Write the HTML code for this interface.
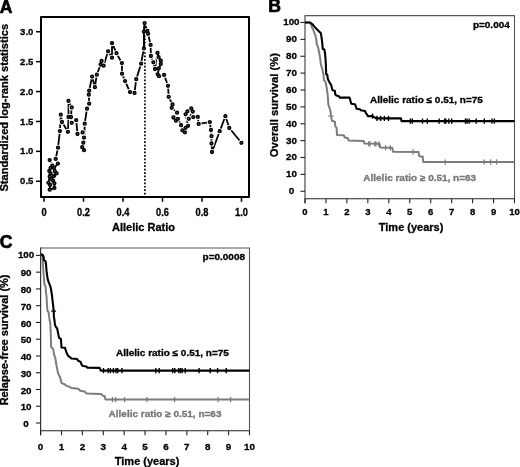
<!DOCTYPE html>
<html><head><meta charset="utf-8"><style>
html,body{margin:0;padding:0;background:#fff;width:520px;height:467px;overflow:hidden;}
text{stroke:#000;stroke-width:0.3px;}
text.gr{fill:#777;stroke:#777;}
text.pl{stroke-width:0.7px;}
</style></head><body>
<svg width="520" height="467" viewBox="0 0 520 467" style="display:block;will-change:transform">
<rect width="520" height="467" fill="#fff"/>
<g font-family='"Liberation Sans", sans-serif' font-weight="bold" stroke-linejoin="round">
<rect x="41" y="17" width="208" height="180" fill="none" stroke="#000" stroke-width="2"/>
<line x1="44" y1="198" x2="44" y2="201.8" stroke="#000" stroke-width="1.5"/>
<text transform="translate(44,215.8) scale(0.9,1)" font-size="10.3" text-anchor="middle">0</text>
<line x1="83.5" y1="198" x2="83.5" y2="201.8" stroke="#000" stroke-width="1.5"/>
<text transform="translate(83.5,215.8) scale(0.9,1)" font-size="10.3" text-anchor="middle">0.2</text>
<line x1="123" y1="198" x2="123" y2="201.8" stroke="#000" stroke-width="1.5"/>
<text transform="translate(123,215.8) scale(0.9,1)" font-size="10.3" text-anchor="middle">0.4</text>
<line x1="162.5" y1="198" x2="162.5" y2="201.8" stroke="#000" stroke-width="1.5"/>
<text transform="translate(162.5,215.8) scale(0.9,1)" font-size="10.3" text-anchor="middle">0.6</text>
<line x1="202" y1="198" x2="202" y2="201.8" stroke="#000" stroke-width="1.5"/>
<text transform="translate(202,215.8) scale(0.9,1)" font-size="10.3" text-anchor="middle">0.8</text>
<line x1="241.5" y1="198" x2="241.5" y2="201.8" stroke="#000" stroke-width="1.5"/>
<text transform="translate(241.5,215.8) scale(0.9,1)" font-size="10.3" text-anchor="middle">1.0</text>
<line x1="36" y1="181.25" x2="40" y2="181.25" stroke="#000" stroke-width="1.5"/>
<text transform="translate(26.7,184.35) scale(0.96,1)" font-size="9.9" text-anchor="middle">0.5</text>
<line x1="36" y1="151.35" x2="40" y2="151.35" stroke="#000" stroke-width="1.5"/>
<text transform="translate(26.7,154.45) scale(0.96,1)" font-size="9.9" text-anchor="middle">1.0</text>
<line x1="36" y1="121.45" x2="40" y2="121.45" stroke="#000" stroke-width="1.5"/>
<text transform="translate(26.7,124.55) scale(0.96,1)" font-size="9.9" text-anchor="middle">1.5</text>
<line x1="36" y1="91.55" x2="40" y2="91.55" stroke="#000" stroke-width="1.5"/>
<text transform="translate(26.7,94.65) scale(0.96,1)" font-size="9.9" text-anchor="middle">2.0</text>
<line x1="36" y1="61.65" x2="40" y2="61.65" stroke="#000" stroke-width="1.5"/>
<text transform="translate(26.7,64.75) scale(0.96,1)" font-size="9.9" text-anchor="middle">2.5</text>
<line x1="36" y1="31.75" x2="40" y2="31.75" stroke="#000" stroke-width="1.5"/>
<text transform="translate(26.7,34.85) scale(0.96,1)" font-size="9.9" text-anchor="middle">3.0</text>
<text x="143.5" y="231.3" font-size="11" text-anchor="middle">Allelic Ratio</text>
<text transform="translate(7.8,107.7) rotate(-90)" font-size="11.1" text-anchor="middle">Standardized log-rank statistics</text>
<text x="-0.3" y="12.5" font-size="17.6" class="pl">A</text>
<line x1="144.9" y1="24.7" x2="144.9" y2="196" stroke="#000" stroke-width="1.7" stroke-dasharray="1.7 1.73"/>
<path d="M49.7,160.1 L52.3,165.7 L50.6,167.9 L49.3,170.9 L50.6,173.4 L49.7,176.4 L48.4,182.8 L50.1,185 L49.7,189.7 L54.4,188 L54.4,183.3 L53.1,180.7 L51.4,179 L54,176 L56.6,173.4 L54.9,171.3 L54,167.9 L57.9,163.6 L55.7,158.9 L58,147.7 L59.9,131.1 L60.8,114.7 L62,122 L67.9,131.8 L68.5,117 L68.5,100.9 L71.7,107.4 L71,117 L71.7,122.8 L76.2,120.2 L77.5,134 L82.6,132.4 L84,137.6 L83.3,142.7 L82.2,147.2 L84,150.2 L84.7,123.7 L87,108.7 L89.2,103.7 L88.8,94.7 L89.2,90.7 L92.1,76.6 L94.9,87.2 L96.8,74.7 L100.6,64.5 L101.6,61 L103.6,65.7 L108.1,51.3 L112,57.7 L112,43.2 L116.5,53.2 L121.9,63.1 L122,73.7 L125.1,81.1 L130,92.1 L134.5,93 L136.2,79.2 L141.1,63.7 L143.9,48.4 L143.9,31.7 L144.6,23.1 L147.4,31 L148.1,33.8 L150.6,44.9 L150.9,56 L153.4,62.3 L155,69 L157.5,52.9 L158.6,57.2 L160.8,60.7 L160.8,64 L158.8,68.3 L157.7,74.3 L159,76.2 L164.1,74.9 L168,85.8 L168.7,96.8 L172.5,104.5 L171.7,107.8 L177.1,112.7 L173.4,117.5 L175.9,120.7 L177.9,118.8 L181.1,125.2 L182.4,130.3 L184.9,132.3 L185.6,127.8 L188.1,125.8 L185.6,114.3 L187.4,111.3 L191.3,108.4 L192.8,111.6 L188.8,118.8 L193.3,117.1 L197.8,116.9 L198.7,123.9 L209.8,122.1 L211,130 L211.5,136.2 L211.5,143.5 L212,152 L219.7,131.2 L225.4,116.2 L229.3,128 L241.4,142.8" fill="none" stroke="#000" stroke-width="1.8"/>
<circle cx="49.7" cy="160.1" r="3.0" fill="#fff"/>
<circle cx="52.3" cy="165.7" r="3.0" fill="#fff"/>
<circle cx="50.6" cy="167.9" r="3.0" fill="#fff"/>
<circle cx="49.3" cy="170.9" r="3.0" fill="#fff"/>
<circle cx="50.6" cy="173.4" r="3.0" fill="#fff"/>
<circle cx="49.7" cy="176.4" r="3.0" fill="#fff"/>
<circle cx="48.4" cy="182.8" r="3.0" fill="#fff"/>
<circle cx="50.1" cy="185" r="3.0" fill="#fff"/>
<circle cx="49.7" cy="189.7" r="3.0" fill="#fff"/>
<circle cx="54.4" cy="188" r="3.0" fill="#fff"/>
<circle cx="54.4" cy="183.3" r="3.0" fill="#fff"/>
<circle cx="53.1" cy="180.7" r="3.0" fill="#fff"/>
<circle cx="51.4" cy="179" r="3.0" fill="#fff"/>
<circle cx="54" cy="176" r="3.0" fill="#fff"/>
<circle cx="56.6" cy="173.4" r="3.0" fill="#fff"/>
<circle cx="54.9" cy="171.3" r="3.0" fill="#fff"/>
<circle cx="54" cy="167.9" r="3.0" fill="#fff"/>
<circle cx="57.9" cy="163.6" r="3.0" fill="#fff"/>
<circle cx="55.7" cy="158.9" r="3.0" fill="#fff"/>
<circle cx="58" cy="147.7" r="3.0" fill="#fff"/>
<circle cx="59.9" cy="131.1" r="3.0" fill="#fff"/>
<circle cx="60.8" cy="114.7" r="3.0" fill="#fff"/>
<circle cx="62" cy="122" r="3.0" fill="#fff"/>
<circle cx="67.9" cy="131.8" r="3.0" fill="#fff"/>
<circle cx="68.5" cy="117" r="3.0" fill="#fff"/>
<circle cx="68.5" cy="100.9" r="3.0" fill="#fff"/>
<circle cx="71.7" cy="107.4" r="3.0" fill="#fff"/>
<circle cx="71" cy="117" r="3.0" fill="#fff"/>
<circle cx="71.7" cy="122.8" r="3.0" fill="#fff"/>
<circle cx="76.2" cy="120.2" r="3.0" fill="#fff"/>
<circle cx="77.5" cy="134" r="3.0" fill="#fff"/>
<circle cx="82.6" cy="132.4" r="3.0" fill="#fff"/>
<circle cx="84" cy="137.6" r="3.0" fill="#fff"/>
<circle cx="83.3" cy="142.7" r="3.0" fill="#fff"/>
<circle cx="82.2" cy="147.2" r="3.0" fill="#fff"/>
<circle cx="84" cy="150.2" r="3.0" fill="#fff"/>
<circle cx="84.7" cy="123.7" r="3.0" fill="#fff"/>
<circle cx="87" cy="108.7" r="3.0" fill="#fff"/>
<circle cx="89.2" cy="103.7" r="3.0" fill="#fff"/>
<circle cx="88.8" cy="94.7" r="3.0" fill="#fff"/>
<circle cx="89.2" cy="90.7" r="3.0" fill="#fff"/>
<circle cx="92.1" cy="76.6" r="3.0" fill="#fff"/>
<circle cx="94.9" cy="87.2" r="3.0" fill="#fff"/>
<circle cx="96.8" cy="74.7" r="3.0" fill="#fff"/>
<circle cx="100.6" cy="64.5" r="3.0" fill="#fff"/>
<circle cx="101.6" cy="61" r="3.0" fill="#fff"/>
<circle cx="103.6" cy="65.7" r="3.0" fill="#fff"/>
<circle cx="108.1" cy="51.3" r="3.0" fill="#fff"/>
<circle cx="112" cy="57.7" r="3.0" fill="#fff"/>
<circle cx="112" cy="43.2" r="3.0" fill="#fff"/>
<circle cx="116.5" cy="53.2" r="3.0" fill="#fff"/>
<circle cx="121.9" cy="63.1" r="3.0" fill="#fff"/>
<circle cx="122" cy="73.7" r="3.0" fill="#fff"/>
<circle cx="125.1" cy="81.1" r="3.0" fill="#fff"/>
<circle cx="130" cy="92.1" r="3.0" fill="#fff"/>
<circle cx="134.5" cy="93" r="3.0" fill="#fff"/>
<circle cx="136.2" cy="79.2" r="3.0" fill="#fff"/>
<circle cx="141.1" cy="63.7" r="3.0" fill="#fff"/>
<circle cx="143.9" cy="48.4" r="3.0" fill="#fff"/>
<circle cx="143.9" cy="31.7" r="3.0" fill="#fff"/>
<circle cx="144.6" cy="23.1" r="3.0" fill="#fff"/>
<circle cx="147.4" cy="31" r="3.0" fill="#fff"/>
<circle cx="148.1" cy="33.8" r="3.0" fill="#fff"/>
<circle cx="150.6" cy="44.9" r="3.0" fill="#fff"/>
<circle cx="150.9" cy="56" r="3.0" fill="#fff"/>
<circle cx="153.4" cy="62.3" r="3.0" fill="#fff"/>
<circle cx="155" cy="69" r="3.0" fill="#fff"/>
<circle cx="157.5" cy="52.9" r="3.0" fill="#fff"/>
<circle cx="158.6" cy="57.2" r="3.0" fill="#fff"/>
<circle cx="160.8" cy="60.7" r="3.0" fill="#fff"/>
<circle cx="160.8" cy="64" r="3.0" fill="#fff"/>
<circle cx="158.8" cy="68.3" r="3.0" fill="#fff"/>
<circle cx="157.7" cy="74.3" r="3.0" fill="#fff"/>
<circle cx="159" cy="76.2" r="3.0" fill="#fff"/>
<circle cx="164.1" cy="74.9" r="3.0" fill="#fff"/>
<circle cx="168" cy="85.8" r="3.0" fill="#fff"/>
<circle cx="168.7" cy="96.8" r="3.0" fill="#fff"/>
<circle cx="172.5" cy="104.5" r="3.0" fill="#fff"/>
<circle cx="171.7" cy="107.8" r="3.0" fill="#fff"/>
<circle cx="177.1" cy="112.7" r="3.0" fill="#fff"/>
<circle cx="173.4" cy="117.5" r="3.0" fill="#fff"/>
<circle cx="175.9" cy="120.7" r="3.0" fill="#fff"/>
<circle cx="177.9" cy="118.8" r="3.0" fill="#fff"/>
<circle cx="181.1" cy="125.2" r="3.0" fill="#fff"/>
<circle cx="182.4" cy="130.3" r="3.0" fill="#fff"/>
<circle cx="184.9" cy="132.3" r="3.0" fill="#fff"/>
<circle cx="185.6" cy="127.8" r="3.0" fill="#fff"/>
<circle cx="188.1" cy="125.8" r="3.0" fill="#fff"/>
<circle cx="185.6" cy="114.3" r="3.0" fill="#fff"/>
<circle cx="187.4" cy="111.3" r="3.0" fill="#fff"/>
<circle cx="191.3" cy="108.4" r="3.0" fill="#fff"/>
<circle cx="192.8" cy="111.6" r="3.0" fill="#fff"/>
<circle cx="188.8" cy="118.8" r="3.0" fill="#fff"/>
<circle cx="193.3" cy="117.1" r="3.0" fill="#fff"/>
<circle cx="197.8" cy="116.9" r="3.0" fill="#fff"/>
<circle cx="198.7" cy="123.9" r="3.0" fill="#fff"/>
<circle cx="209.8" cy="122.1" r="3.0" fill="#fff"/>
<circle cx="211" cy="130" r="3.0" fill="#fff"/>
<circle cx="211.5" cy="136.2" r="3.0" fill="#fff"/>
<circle cx="211.5" cy="143.5" r="3.0" fill="#fff"/>
<circle cx="212" cy="152" r="3.0" fill="#fff"/>
<circle cx="219.7" cy="131.2" r="3.0" fill="#fff"/>
<circle cx="225.4" cy="116.2" r="3.0" fill="#fff"/>
<circle cx="229.3" cy="128" r="3.0" fill="#fff"/>
<circle cx="241.4" cy="142.8" r="3.0" fill="#fff"/>
<path d="M52.3,165.7 L50.6,167.9 L49.3,170.9 L50.6,173.4 L49.7,176.4 L48.4,182.8 L50.1,185 L49.7,189.7 L54.4,188 L54.4,183.3 L53.1,180.7 L51.4,179 L54,176 L56.6,173.4 L54.9,171.3 L54,167.9 L57.9,163.6" fill="none" stroke="#000" stroke-width="1.8"/>
<path d="M143.9,48.4 L143.9,31.7 L144.6,23.1" fill="none" stroke="#000" stroke-width="1.8"/>
<path d="M157.5,52.9 L158.6,57.2 L160.8,60.7 L160.8,64 L158.8,68.3 L157.7,74.3 L159,76.2" fill="none" stroke="#000" stroke-width="1.8"/>
<circle cx="49.7" cy="160.1" r="1.45" fill="#555" stroke="#000" stroke-width="1.4"/>
<circle cx="52.3" cy="165.7" r="1.45" fill="#555" stroke="#000" stroke-width="1.4"/>
<circle cx="50.6" cy="167.9" r="1.45" fill="#555" stroke="#000" stroke-width="1.4"/>
<circle cx="49.3" cy="170.9" r="1.45" fill="#555" stroke="#000" stroke-width="1.4"/>
<circle cx="50.6" cy="173.4" r="1.45" fill="#555" stroke="#000" stroke-width="1.4"/>
<circle cx="49.7" cy="176.4" r="1.45" fill="#555" stroke="#000" stroke-width="1.4"/>
<circle cx="48.4" cy="182.8" r="1.45" fill="#555" stroke="#000" stroke-width="1.4"/>
<circle cx="50.1" cy="185" r="1.45" fill="#555" stroke="#000" stroke-width="1.4"/>
<circle cx="49.7" cy="189.7" r="1.45" fill="#555" stroke="#000" stroke-width="1.4"/>
<circle cx="54.4" cy="188" r="1.45" fill="#555" stroke="#000" stroke-width="1.4"/>
<circle cx="54.4" cy="183.3" r="1.45" fill="#555" stroke="#000" stroke-width="1.4"/>
<circle cx="53.1" cy="180.7" r="1.45" fill="#555" stroke="#000" stroke-width="1.4"/>
<circle cx="51.4" cy="179" r="1.45" fill="#555" stroke="#000" stroke-width="1.4"/>
<circle cx="54" cy="176" r="1.45" fill="#555" stroke="#000" stroke-width="1.4"/>
<circle cx="56.6" cy="173.4" r="1.45" fill="#555" stroke="#000" stroke-width="1.4"/>
<circle cx="54.9" cy="171.3" r="1.45" fill="#555" stroke="#000" stroke-width="1.4"/>
<circle cx="54" cy="167.9" r="1.45" fill="#555" stroke="#000" stroke-width="1.4"/>
<circle cx="57.9" cy="163.6" r="1.45" fill="#555" stroke="#000" stroke-width="1.4"/>
<circle cx="55.7" cy="158.9" r="1.45" fill="#555" stroke="#000" stroke-width="1.4"/>
<circle cx="58" cy="147.7" r="1.45" fill="#555" stroke="#000" stroke-width="1.4"/>
<circle cx="59.9" cy="131.1" r="1.45" fill="#555" stroke="#000" stroke-width="1.4"/>
<circle cx="60.8" cy="114.7" r="1.45" fill="#555" stroke="#000" stroke-width="1.4"/>
<circle cx="62" cy="122" r="1.45" fill="#555" stroke="#000" stroke-width="1.4"/>
<circle cx="67.9" cy="131.8" r="1.45" fill="#555" stroke="#000" stroke-width="1.4"/>
<circle cx="68.5" cy="117" r="1.45" fill="#555" stroke="#000" stroke-width="1.4"/>
<circle cx="68.5" cy="100.9" r="1.45" fill="#555" stroke="#000" stroke-width="1.4"/>
<circle cx="71.7" cy="107.4" r="1.45" fill="#555" stroke="#000" stroke-width="1.4"/>
<circle cx="71" cy="117" r="1.45" fill="#555" stroke="#000" stroke-width="1.4"/>
<circle cx="71.7" cy="122.8" r="1.45" fill="#555" stroke="#000" stroke-width="1.4"/>
<circle cx="76.2" cy="120.2" r="1.45" fill="#555" stroke="#000" stroke-width="1.4"/>
<circle cx="77.5" cy="134" r="1.45" fill="#555" stroke="#000" stroke-width="1.4"/>
<circle cx="82.6" cy="132.4" r="1.45" fill="#555" stroke="#000" stroke-width="1.4"/>
<circle cx="84" cy="137.6" r="1.45" fill="#555" stroke="#000" stroke-width="1.4"/>
<circle cx="83.3" cy="142.7" r="1.45" fill="#555" stroke="#000" stroke-width="1.4"/>
<circle cx="82.2" cy="147.2" r="1.45" fill="#555" stroke="#000" stroke-width="1.4"/>
<circle cx="84" cy="150.2" r="1.45" fill="#555" stroke="#000" stroke-width="1.4"/>
<circle cx="84.7" cy="123.7" r="1.45" fill="#555" stroke="#000" stroke-width="1.4"/>
<circle cx="87" cy="108.7" r="1.45" fill="#555" stroke="#000" stroke-width="1.4"/>
<circle cx="89.2" cy="103.7" r="1.45" fill="#555" stroke="#000" stroke-width="1.4"/>
<circle cx="88.8" cy="94.7" r="1.45" fill="#555" stroke="#000" stroke-width="1.4"/>
<circle cx="89.2" cy="90.7" r="1.45" fill="#555" stroke="#000" stroke-width="1.4"/>
<circle cx="92.1" cy="76.6" r="1.45" fill="#555" stroke="#000" stroke-width="1.4"/>
<circle cx="94.9" cy="87.2" r="1.45" fill="#555" stroke="#000" stroke-width="1.4"/>
<circle cx="96.8" cy="74.7" r="1.45" fill="#555" stroke="#000" stroke-width="1.4"/>
<circle cx="100.6" cy="64.5" r="1.45" fill="#555" stroke="#000" stroke-width="1.4"/>
<circle cx="101.6" cy="61" r="1.45" fill="#555" stroke="#000" stroke-width="1.4"/>
<circle cx="103.6" cy="65.7" r="1.45" fill="#555" stroke="#000" stroke-width="1.4"/>
<circle cx="108.1" cy="51.3" r="1.45" fill="#555" stroke="#000" stroke-width="1.4"/>
<circle cx="112" cy="57.7" r="1.45" fill="#555" stroke="#000" stroke-width="1.4"/>
<circle cx="112" cy="43.2" r="1.45" fill="#555" stroke="#000" stroke-width="1.4"/>
<circle cx="116.5" cy="53.2" r="1.45" fill="#555" stroke="#000" stroke-width="1.4"/>
<circle cx="121.9" cy="63.1" r="1.45" fill="#555" stroke="#000" stroke-width="1.4"/>
<circle cx="122" cy="73.7" r="1.45" fill="#555" stroke="#000" stroke-width="1.4"/>
<circle cx="125.1" cy="81.1" r="1.45" fill="#555" stroke="#000" stroke-width="1.4"/>
<circle cx="130" cy="92.1" r="1.45" fill="#555" stroke="#000" stroke-width="1.4"/>
<circle cx="134.5" cy="93" r="1.45" fill="#555" stroke="#000" stroke-width="1.4"/>
<circle cx="136.2" cy="79.2" r="1.45" fill="#555" stroke="#000" stroke-width="1.4"/>
<circle cx="141.1" cy="63.7" r="1.45" fill="#555" stroke="#000" stroke-width="1.4"/>
<circle cx="143.9" cy="48.4" r="1.45" fill="#555" stroke="#000" stroke-width="1.4"/>
<circle cx="143.9" cy="31.7" r="1.45" fill="#555" stroke="#000" stroke-width="1.4"/>
<circle cx="144.6" cy="23.1" r="1.45" fill="#555" stroke="#000" stroke-width="1.4"/>
<circle cx="147.4" cy="31" r="1.45" fill="#555" stroke="#000" stroke-width="1.4"/>
<circle cx="148.1" cy="33.8" r="1.45" fill="#555" stroke="#000" stroke-width="1.4"/>
<circle cx="150.6" cy="44.9" r="1.45" fill="#555" stroke="#000" stroke-width="1.4"/>
<circle cx="150.9" cy="56" r="1.45" fill="#555" stroke="#000" stroke-width="1.4"/>
<circle cx="153.4" cy="62.3" r="1.45" fill="#555" stroke="#000" stroke-width="1.4"/>
<circle cx="155" cy="69" r="1.45" fill="#555" stroke="#000" stroke-width="1.4"/>
<circle cx="157.5" cy="52.9" r="1.45" fill="#555" stroke="#000" stroke-width="1.4"/>
<circle cx="158.6" cy="57.2" r="1.45" fill="#555" stroke="#000" stroke-width="1.4"/>
<circle cx="160.8" cy="60.7" r="1.45" fill="#555" stroke="#000" stroke-width="1.4"/>
<circle cx="160.8" cy="64" r="1.45" fill="#555" stroke="#000" stroke-width="1.4"/>
<circle cx="158.8" cy="68.3" r="1.45" fill="#555" stroke="#000" stroke-width="1.4"/>
<circle cx="157.7" cy="74.3" r="1.45" fill="#555" stroke="#000" stroke-width="1.4"/>
<circle cx="159" cy="76.2" r="1.45" fill="#555" stroke="#000" stroke-width="1.4"/>
<circle cx="164.1" cy="74.9" r="1.45" fill="#555" stroke="#000" stroke-width="1.4"/>
<circle cx="168" cy="85.8" r="1.45" fill="#555" stroke="#000" stroke-width="1.4"/>
<circle cx="168.7" cy="96.8" r="1.45" fill="#555" stroke="#000" stroke-width="1.4"/>
<circle cx="172.5" cy="104.5" r="1.45" fill="#555" stroke="#000" stroke-width="1.4"/>
<circle cx="171.7" cy="107.8" r="1.45" fill="#555" stroke="#000" stroke-width="1.4"/>
<circle cx="177.1" cy="112.7" r="1.45" fill="#555" stroke="#000" stroke-width="1.4"/>
<circle cx="173.4" cy="117.5" r="1.45" fill="#555" stroke="#000" stroke-width="1.4"/>
<circle cx="175.9" cy="120.7" r="1.45" fill="#555" stroke="#000" stroke-width="1.4"/>
<circle cx="177.9" cy="118.8" r="1.45" fill="#555" stroke="#000" stroke-width="1.4"/>
<circle cx="181.1" cy="125.2" r="1.45" fill="#555" stroke="#000" stroke-width="1.4"/>
<circle cx="182.4" cy="130.3" r="1.45" fill="#555" stroke="#000" stroke-width="1.4"/>
<circle cx="184.9" cy="132.3" r="1.45" fill="#555" stroke="#000" stroke-width="1.4"/>
<circle cx="185.6" cy="127.8" r="1.45" fill="#555" stroke="#000" stroke-width="1.4"/>
<circle cx="188.1" cy="125.8" r="1.45" fill="#555" stroke="#000" stroke-width="1.4"/>
<circle cx="185.6" cy="114.3" r="1.45" fill="#555" stroke="#000" stroke-width="1.4"/>
<circle cx="187.4" cy="111.3" r="1.45" fill="#555" stroke="#000" stroke-width="1.4"/>
<circle cx="191.3" cy="108.4" r="1.45" fill="#555" stroke="#000" stroke-width="1.4"/>
<circle cx="192.8" cy="111.6" r="1.45" fill="#555" stroke="#000" stroke-width="1.4"/>
<circle cx="188.8" cy="118.8" r="1.45" fill="#555" stroke="#000" stroke-width="1.4"/>
<circle cx="193.3" cy="117.1" r="1.45" fill="#555" stroke="#000" stroke-width="1.4"/>
<circle cx="197.8" cy="116.9" r="1.45" fill="#555" stroke="#000" stroke-width="1.4"/>
<circle cx="198.7" cy="123.9" r="1.45" fill="#555" stroke="#000" stroke-width="1.4"/>
<circle cx="209.8" cy="122.1" r="1.45" fill="#555" stroke="#000" stroke-width="1.4"/>
<circle cx="211" cy="130" r="1.45" fill="#555" stroke="#000" stroke-width="1.4"/>
<circle cx="211.5" cy="136.2" r="1.45" fill="#555" stroke="#000" stroke-width="1.4"/>
<circle cx="211.5" cy="143.5" r="1.45" fill="#555" stroke="#000" stroke-width="1.4"/>
<circle cx="212" cy="152" r="1.45" fill="#555" stroke="#000" stroke-width="1.4"/>
<circle cx="219.7" cy="131.2" r="1.45" fill="#555" stroke="#000" stroke-width="1.4"/>
<circle cx="225.4" cy="116.2" r="1.45" fill="#555" stroke="#000" stroke-width="1.4"/>
<circle cx="229.3" cy="128" r="1.45" fill="#555" stroke="#000" stroke-width="1.4"/>
<circle cx="241.4" cy="142.8" r="1.45" fill="#555" stroke="#000" stroke-width="1.4"/>
<path d="M305,15.6 L514.5,15.6 L514.5,198.75" fill="none" stroke="#555" stroke-width="1.1"/>
<line x1="305" y1="15.1" x2="305" y2="203.25" stroke="#777" stroke-width="1.6"/>
<line x1="305" y1="198.75" x2="515" y2="198.75" stroke="#222" stroke-width="1.1"/>
<line x1="300.4" y1="191.25" x2="305" y2="191.25" stroke="#222" stroke-width="1.1"/>
<text x="291.4" y="194.15" font-size="9.8" text-anchor="middle">0</text>
<line x1="305" y1="198.75" x2="305" y2="203.25" stroke="#222" stroke-width="1.1"/>
<text x="305" y="215.25" font-size="9.5" text-anchor="middle">0</text>
<line x1="300.4" y1="174.38" x2="305" y2="174.38" stroke="#222" stroke-width="1.1"/>
<text x="291.4" y="177.28" font-size="9.8" text-anchor="middle">10</text>
<line x1="325.95" y1="198.75" x2="325.95" y2="203.25" stroke="#222" stroke-width="1.1"/>
<text x="325.95" y="215.25" font-size="9.5" text-anchor="middle">1</text>
<line x1="300.4" y1="157.5" x2="305" y2="157.5" stroke="#222" stroke-width="1.1"/>
<text x="291.4" y="160.4" font-size="9.8" text-anchor="middle">20</text>
<line x1="346.9" y1="198.75" x2="346.9" y2="203.25" stroke="#222" stroke-width="1.1"/>
<text x="346.9" y="215.25" font-size="9.5" text-anchor="middle">2</text>
<line x1="300.4" y1="140.62" x2="305" y2="140.62" stroke="#222" stroke-width="1.1"/>
<text x="291.4" y="143.53" font-size="9.8" text-anchor="middle">30</text>
<line x1="367.85" y1="198.75" x2="367.85" y2="203.25" stroke="#222" stroke-width="1.1"/>
<text x="367.85" y="215.25" font-size="9.5" text-anchor="middle">3</text>
<line x1="300.4" y1="123.75" x2="305" y2="123.75" stroke="#222" stroke-width="1.1"/>
<text x="291.4" y="126.65" font-size="9.8" text-anchor="middle">40</text>
<line x1="388.8" y1="198.75" x2="388.8" y2="203.25" stroke="#222" stroke-width="1.1"/>
<text x="388.8" y="215.25" font-size="9.5" text-anchor="middle">4</text>
<line x1="300.4" y1="106.88" x2="305" y2="106.88" stroke="#222" stroke-width="1.1"/>
<text x="291.4" y="109.78" font-size="9.8" text-anchor="middle">50</text>
<line x1="409.75" y1="198.75" x2="409.75" y2="203.25" stroke="#222" stroke-width="1.1"/>
<text x="409.75" y="215.25" font-size="9.5" text-anchor="middle">5</text>
<line x1="300.4" y1="90" x2="305" y2="90" stroke="#222" stroke-width="1.1"/>
<text x="291.4" y="92.9" font-size="9.8" text-anchor="middle">60</text>
<line x1="430.7" y1="198.75" x2="430.7" y2="203.25" stroke="#222" stroke-width="1.1"/>
<text x="430.7" y="215.25" font-size="9.5" text-anchor="middle">6</text>
<line x1="300.4" y1="73.12" x2="305" y2="73.12" stroke="#222" stroke-width="1.1"/>
<text x="291.4" y="76.03" font-size="9.8" text-anchor="middle">70</text>
<line x1="451.65" y1="198.75" x2="451.65" y2="203.25" stroke="#222" stroke-width="1.1"/>
<text x="451.65" y="215.25" font-size="9.5" text-anchor="middle">7</text>
<line x1="300.4" y1="56.25" x2="305" y2="56.25" stroke="#222" stroke-width="1.1"/>
<text x="291.4" y="59.15" font-size="9.8" text-anchor="middle">80</text>
<line x1="472.6" y1="198.75" x2="472.6" y2="203.25" stroke="#222" stroke-width="1.1"/>
<text x="472.6" y="215.25" font-size="9.5" text-anchor="middle">8</text>
<line x1="300.4" y1="39.38" x2="305" y2="39.38" stroke="#222" stroke-width="1.1"/>
<text x="291.4" y="42.27" font-size="9.8" text-anchor="middle">90</text>
<line x1="493.55" y1="198.75" x2="493.55" y2="203.25" stroke="#222" stroke-width="1.1"/>
<text x="493.55" y="215.25" font-size="9.5" text-anchor="middle">9</text>
<line x1="300.4" y1="22.5" x2="305" y2="22.5" stroke="#222" stroke-width="1.1"/>
<text x="291.4" y="25.4" font-size="9.8" text-anchor="middle">100</text>
<line x1="514.5" y1="198.75" x2="514.5" y2="203.25" stroke="#222" stroke-width="1.1"/>
<text x="514.5" y="215.25" font-size="9.5" text-anchor="middle">10</text>
<text x="411.1" y="231.4" font-size="11" text-anchor="middle">Time (years)</text>
<text transform="translate(277.7,105.15) rotate(-90)" font-size="11.25" text-anchor="middle">Overall survival (%)</text>
<text x="268.2" y="12.3" font-size="17.6" class="pl">B</text>
<text transform="translate(509.8,28.1) scale(1.11,1)" font-size="9" text-anchor="end">p=0.004</text>
<path d="M305,22.5 L310,22.5 L311,24.4 L312.1,27.6 L313.7,30.9 L314.8,34.1 L315.9,37.3 L316.4,40.5 L316.9,44.8 L318,46.9 L319.1,52.3 L320.1,57.7 L320.8,64 L322.4,69.4 L323.5,74.7 L324,80.1 L325.6,82.2 L326.7,87.6 L327.8,96.2 L328.4,105 L329.7,108.4 L330.6,111.9 L331,116.1 L331.9,120.8 L334.9,121.7 L335.3,126.4 L336.6,127.7 L337,135 L343.8,135.2 L344.7,137.5 L347.7,138 L348.6,140.5 L363.7,140.9 L364.5,143.6 L379.5,143.8 L380.2,147.5 L392.3,147.8 L393,151.8 L418.5,151.9 L419.2,156.2 L422.6,156.4 L423.3,162 L514.5,162" fill="none" stroke="#7c7c7c" stroke-width="2"/>
<line x1="368.7" y1="141.2" x2="368.7" y2="146.4" stroke="#7c7c7c" stroke-width="1.3"/>
<line x1="370.1" y1="141.2" x2="370.1" y2="146.4" stroke="#7c7c7c" stroke-width="1.3"/>
<line x1="374.8" y1="141.2" x2="374.8" y2="146.4" stroke="#7c7c7c" stroke-width="1.3"/>
<line x1="375.9" y1="141.2" x2="375.9" y2="146.4" stroke="#7c7c7c" stroke-width="1.3"/>
<line x1="378.8" y1="141.2" x2="378.8" y2="146.4" stroke="#7c7c7c" stroke-width="1.3"/>
<line x1="385.6" y1="145.2" x2="385.6" y2="150.4" stroke="#7c7c7c" stroke-width="1.3"/>
<line x1="390.3" y1="145.2" x2="390.3" y2="150.4" stroke="#7c7c7c" stroke-width="1.3"/>
<line x1="413.2" y1="149.3" x2="413.2" y2="154.5" stroke="#7c7c7c" stroke-width="1.3"/>
<line x1="445.2" y1="159.4" x2="445.2" y2="164.6" stroke="#7c7c7c" stroke-width="1.3"/>
<line x1="484.2" y1="159.4" x2="484.2" y2="164.6" stroke="#7c7c7c" stroke-width="1.3"/>
<line x1="490.6" y1="159.4" x2="490.6" y2="164.6" stroke="#7c7c7c" stroke-width="1.3"/>
<line x1="496.6" y1="159.4" x2="496.6" y2="164.6" stroke="#7c7c7c" stroke-width="1.3"/>
<path d="M305,22.5 L310,22.5 L312.6,24.4 L314.8,27.1 L316.9,29.3 L319.1,31.4 L320.7,33 L321.2,35.1 L321.8,39.4 L322.3,43.7 L322.8,49.1 L324.4,49.6 L325,53.4 L325.5,58.7 L325.8,64 L326.2,74.2 L327.3,74.7 L327.8,79 L328.9,81.1 L329.9,83.3 L331,84.4 L332.1,88.7 L332.6,90.3 L334.8,90.8 L335.3,94.5 L336.4,95.6 L339,96.2 L339.6,97.6 L349.6,97.6 L350.4,100.7 L351.2,103.8 L355,104.2 L355.8,106.5 L356.6,108.8 L360,109.2 L360.8,110.3 L365,111 L365.8,112.7 L367,114.6 L367.7,116.1 L372.7,116.1 L373.9,117.1 L375.4,117.7 L376.2,118.4 L401,118.4 L401.5,121.1 L514.5,121.1" fill="none" stroke="#000" stroke-width="2.1"/>
<line x1="372.5" y1="113.5" x2="372.5" y2="118.7" stroke="#000" stroke-width="1.4"/>
<line x1="377" y1="115.8" x2="377" y2="121" stroke="#000" stroke-width="1.4"/>
<line x1="380.6" y1="115.8" x2="380.6" y2="121" stroke="#000" stroke-width="1.4"/>
<line x1="384.4" y1="115.8" x2="384.4" y2="121" stroke="#000" stroke-width="1.4"/>
<line x1="388.5" y1="115.8" x2="388.5" y2="121" stroke="#000" stroke-width="1.4"/>
<line x1="410.4" y1="118.5" x2="410.4" y2="123.7" stroke="#000" stroke-width="1.4"/>
<line x1="412.3" y1="118.5" x2="412.3" y2="123.7" stroke="#000" stroke-width="1.4"/>
<line x1="422.5" y1="118.5" x2="422.5" y2="123.7" stroke="#000" stroke-width="1.4"/>
<line x1="427.3" y1="118.5" x2="427.3" y2="123.7" stroke="#000" stroke-width="1.4"/>
<line x1="439.2" y1="118.5" x2="439.2" y2="123.7" stroke="#000" stroke-width="1.4"/>
<line x1="444.6" y1="118.5" x2="444.6" y2="123.7" stroke="#000" stroke-width="1.4"/>
<line x1="445.8" y1="118.5" x2="445.8" y2="123.7" stroke="#000" stroke-width="1.4"/>
<line x1="448.8" y1="118.5" x2="448.8" y2="123.7" stroke="#000" stroke-width="1.4"/>
<line x1="451.7" y1="118.5" x2="451.7" y2="123.7" stroke="#000" stroke-width="1.4"/>
<line x1="465.4" y1="118.5" x2="465.4" y2="123.7" stroke="#000" stroke-width="1.4"/>
<line x1="467" y1="118.5" x2="467" y2="123.7" stroke="#000" stroke-width="1.4"/>
<line x1="469.2" y1="118.5" x2="469.2" y2="123.7" stroke="#000" stroke-width="1.4"/>
<line x1="476.2" y1="118.5" x2="476.2" y2="123.7" stroke="#000" stroke-width="1.4"/>
<line x1="484.3" y1="118.5" x2="484.3" y2="123.7" stroke="#000" stroke-width="1.4"/>
<line x1="492" y1="118.5" x2="492" y2="123.7" stroke="#000" stroke-width="1.4"/>
<line x1="494.4" y1="118.5" x2="494.4" y2="123.7" stroke="#000" stroke-width="1.4"/>
<text transform="translate(370,102.6) scale(1.11,1)" font-size="9">Allelic ratio &#8804; 0.51, n=75</text>
<text transform="translate(363.3,181) scale(1.11,1)" font-size="9" class="gr">Allelic ratio &#8805; 0.51, n=63</text>
<path d="M40.6,248 L249.5,248 L249.5,430.75" fill="none" stroke="#555" stroke-width="1.1"/>
<line x1="40.6" y1="247.5" x2="40.6" y2="435.25" stroke="#333" stroke-width="1.2"/>
<line x1="40.6" y1="430.75" x2="250" y2="430.75" stroke="#222" stroke-width="1.1"/>
<line x1="36" y1="423" x2="40.6" y2="423" stroke="#222" stroke-width="1.1"/>
<text x="26.1" y="427.2" font-size="9.8" text-anchor="middle">0</text>
<line x1="40.6" y1="430.75" x2="40.6" y2="435.25" stroke="#222" stroke-width="1.1"/>
<text x="40.6" y="449.95" font-size="9.9" text-anchor="middle">0</text>
<line x1="36" y1="406.24" x2="40.6" y2="406.24" stroke="#222" stroke-width="1.1"/>
<text x="26.1" y="410.44" font-size="9.8" text-anchor="middle">10</text>
<line x1="61.49" y1="430.75" x2="61.49" y2="435.25" stroke="#222" stroke-width="1.1"/>
<text x="61.49" y="449.95" font-size="9.9" text-anchor="middle">1</text>
<line x1="36" y1="389.48" x2="40.6" y2="389.48" stroke="#222" stroke-width="1.1"/>
<text x="26.1" y="393.68" font-size="9.8" text-anchor="middle">20</text>
<line x1="82.38" y1="430.75" x2="82.38" y2="435.25" stroke="#222" stroke-width="1.1"/>
<text x="82.38" y="449.95" font-size="9.9" text-anchor="middle">2</text>
<line x1="36" y1="372.72" x2="40.6" y2="372.72" stroke="#222" stroke-width="1.1"/>
<text x="26.1" y="376.92" font-size="9.8" text-anchor="middle">30</text>
<line x1="103.27" y1="430.75" x2="103.27" y2="435.25" stroke="#222" stroke-width="1.1"/>
<text x="103.27" y="449.95" font-size="9.9" text-anchor="middle">3</text>
<line x1="36" y1="355.96" x2="40.6" y2="355.96" stroke="#222" stroke-width="1.1"/>
<text x="26.1" y="360.16" font-size="9.8" text-anchor="middle">40</text>
<line x1="124.16" y1="430.75" x2="124.16" y2="435.25" stroke="#222" stroke-width="1.1"/>
<text x="124.16" y="449.95" font-size="9.9" text-anchor="middle">4</text>
<line x1="36" y1="339.2" x2="40.6" y2="339.2" stroke="#222" stroke-width="1.1"/>
<text x="26.1" y="343.4" font-size="9.8" text-anchor="middle">50</text>
<line x1="145.05" y1="430.75" x2="145.05" y2="435.25" stroke="#222" stroke-width="1.1"/>
<text x="145.05" y="449.95" font-size="9.9" text-anchor="middle">5</text>
<line x1="36" y1="322.44" x2="40.6" y2="322.44" stroke="#222" stroke-width="1.1"/>
<text x="26.1" y="326.64" font-size="9.8" text-anchor="middle">60</text>
<line x1="165.94" y1="430.75" x2="165.94" y2="435.25" stroke="#222" stroke-width="1.1"/>
<text x="165.94" y="449.95" font-size="9.9" text-anchor="middle">6</text>
<line x1="36" y1="305.68" x2="40.6" y2="305.68" stroke="#222" stroke-width="1.1"/>
<text x="26.1" y="309.88" font-size="9.8" text-anchor="middle">70</text>
<line x1="186.83" y1="430.75" x2="186.83" y2="435.25" stroke="#222" stroke-width="1.1"/>
<text x="186.83" y="449.95" font-size="9.9" text-anchor="middle">7</text>
<line x1="36" y1="288.92" x2="40.6" y2="288.92" stroke="#222" stroke-width="1.1"/>
<text x="26.1" y="293.12" font-size="9.8" text-anchor="middle">80</text>
<line x1="207.72" y1="430.75" x2="207.72" y2="435.25" stroke="#222" stroke-width="1.1"/>
<text x="207.72" y="449.95" font-size="9.9" text-anchor="middle">8</text>
<line x1="36" y1="272.16" x2="40.6" y2="272.16" stroke="#222" stroke-width="1.1"/>
<text x="26.1" y="276.36" font-size="9.8" text-anchor="middle">90</text>
<line x1="228.61" y1="430.75" x2="228.61" y2="435.25" stroke="#222" stroke-width="1.1"/>
<text x="228.61" y="449.95" font-size="9.9" text-anchor="middle">9</text>
<line x1="36" y1="255.4" x2="40.6" y2="255.4" stroke="#222" stroke-width="1.1"/>
<text x="26.1" y="258" font-size="9.8" text-anchor="middle">100</text>
<line x1="249.5" y1="430.75" x2="249.5" y2="435.25" stroke="#222" stroke-width="1.1"/>
<text x="249.5" y="449.95" font-size="9.9" text-anchor="middle">10</text>
<text x="147.1" y="464.8" font-size="11" text-anchor="middle">Time (years)</text>
<text transform="translate(8.3,339.9) rotate(-90)" font-size="11" text-anchor="middle">Relapse-free survival (%)</text>
<text x="-0.2" y="247.6" font-size="17.6" class="pl">C</text>
<text transform="translate(245,260) scale(1.11,1)" font-size="9" text-anchor="end">p=0.0008</text>
<path d="M40.6,254.6 L41.75,254.6 L42.3,256.4 L42.8,262.9 L43.4,271.4 L43.9,277.9 L44.4,284.3 L45.5,286.4 L46,292.9 L46.6,297.2 L47,305.7 L47.5,311.1 L48.6,312.1 L49.1,316.4 L49.6,319.7 L50.2,322.9 L50.7,332.5 L51.1,347 L53.2,349 L53.9,353.9 L55.3,358.1 L56.4,365 L58.1,373.4 L60.2,377.6 L61.6,383.1 L65,384.5 L66.4,385.9 L69.2,386.6 L71.3,388 L78.2,388.7 L80.3,390.8 L84.5,391.5 L86.6,393.5 L101.2,394 L102.6,395.6 L104.7,396.3 L105.4,399.4 L249.5,399.6" fill="none" stroke="#7c7c7c" stroke-width="2"/>
<line x1="112.5" y1="397" x2="112.5" y2="402.2" stroke="#7c7c7c" stroke-width="1.3"/>
<line x1="115.6" y1="397" x2="115.6" y2="402.2" stroke="#7c7c7c" stroke-width="1.3"/>
<line x1="124.6" y1="397" x2="124.6" y2="402.2" stroke="#7c7c7c" stroke-width="1.3"/>
<line x1="146.8" y1="397" x2="146.8" y2="402.2" stroke="#7c7c7c" stroke-width="1.3"/>
<line x1="174.5" y1="397" x2="174.5" y2="402.2" stroke="#7c7c7c" stroke-width="1.3"/>
<line x1="218.1" y1="397" x2="218.1" y2="402.2" stroke="#7c7c7c" stroke-width="1.3"/>
<line x1="230.6" y1="397" x2="230.6" y2="402.2" stroke="#7c7c7c" stroke-width="1.3"/>
<path d="M40.6,254.6 L41.75,254.6 L42.8,255 L43.6,257 L43.9,260.2 L45.5,261.3 L46,264 L46.6,271.4 L47.6,278.9 L48.7,282.2 L50.3,286.4 L50.9,288.6 L51.9,295 L52.9,303.6 L53.4,307.9 L53.7,311.1 L53.9,316.4 L54.5,320.7 L55,325 L56.1,327.2 L57.1,328.2 L58.2,333.6 L59.1,337.9 L60.9,339 L61.5,347.5 L65,347.8 L66.1,351.5 L67.3,354.4 L68.5,356.1 L70.2,357.3 L71.3,358.5 L77.1,359 L78.3,360.8 L80.6,361.9 L81.7,364.8 L82.9,366 L86.3,366.5 L87.5,367.7 L99.6,367.9 L100.8,370.6 L249.5,370.6" fill="none" stroke="#000" stroke-width="2.1"/>
<line x1="103.5" y1="368" x2="103.5" y2="373.2" stroke="#000" stroke-width="1.4"/>
<line x1="108.2" y1="368" x2="108.2" y2="373.2" stroke="#000" stroke-width="1.4"/>
<line x1="110.4" y1="368" x2="110.4" y2="373.2" stroke="#000" stroke-width="1.4"/>
<line x1="113.4" y1="368" x2="113.4" y2="373.2" stroke="#000" stroke-width="1.4"/>
<line x1="116" y1="368" x2="116" y2="373.2" stroke="#000" stroke-width="1.4"/>
<line x1="117.7" y1="368" x2="117.7" y2="373.2" stroke="#000" stroke-width="1.4"/>
<line x1="122" y1="368" x2="122" y2="373.2" stroke="#000" stroke-width="1.4"/>
<line x1="155.8" y1="368" x2="155.8" y2="373.2" stroke="#000" stroke-width="1.4"/>
<line x1="159.2" y1="368" x2="159.2" y2="373.2" stroke="#000" stroke-width="1.4"/>
<line x1="172.7" y1="368" x2="172.7" y2="373.2" stroke="#000" stroke-width="1.4"/>
<line x1="174.8" y1="368" x2="174.8" y2="373.2" stroke="#000" stroke-width="1.4"/>
<line x1="178.7" y1="368" x2="178.7" y2="373.2" stroke="#000" stroke-width="1.4"/>
<line x1="180.4" y1="368" x2="180.4" y2="373.2" stroke="#000" stroke-width="1.4"/>
<line x1="182.1" y1="368" x2="182.1" y2="373.2" stroke="#000" stroke-width="1.4"/>
<line x1="185.2" y1="368" x2="185.2" y2="373.2" stroke="#000" stroke-width="1.4"/>
<line x1="199.1" y1="368" x2="199.1" y2="373.2" stroke="#000" stroke-width="1.4"/>
<line x1="210.2" y1="368" x2="210.2" y2="373.2" stroke="#000" stroke-width="1.4"/>
<line x1="217.6" y1="368" x2="217.6" y2="373.2" stroke="#000" stroke-width="1.4"/>
<line x1="226.2" y1="368" x2="226.2" y2="373.2" stroke="#000" stroke-width="1.4"/>
<text transform="translate(116,355.9) scale(1.11,1)" font-size="9">Allelic ratio &#8804; 0.51, n=75</text>
<text transform="translate(108.6,416.6) scale(1.11,1)" font-size="9" class="gr">Allelic ratio &#8805; 0.51, n=63</text>
<line x1="51.2" y1="311.1" x2="56.1" y2="311.1" stroke="#000" stroke-width="1.2"/>
<line x1="328" y1="116.1" x2="334" y2="116.1" stroke="#888" stroke-width="1.1"/>
</g></svg>
</body></html>
